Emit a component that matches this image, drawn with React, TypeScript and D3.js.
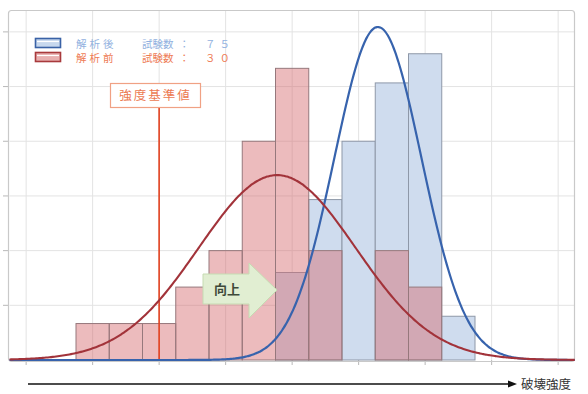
import React from "react";
import * as d3 from "d3";

// bins: each bin is 1 strength unit wide, starting at these left edges
const binLeft = [0, 1, 2, 3, 4, 5, 6, 7, 8, 9, 10, 11];
const beforeCounts = [1, 1, 1, 2, 3, 6, 8, 3, 0, 3, 2, 0]; // 解析前 n=30
const afterCounts = [0, 0, 0, 0, 0, 0, 6, 11, 15, 19, 21, 3]; // 解析後 n=75
const beforeN = 30;
const afterN = 75;
// fitted normal curves
const beforeFit = { mean: 6.05, sd: 2.36 };
const afterFit = { mean: 9.08, sd: 1.31 };
const threshold = 2.5;
const yTicks = [0.05, 0.1, 0.15, 0.2, 0.25, 0.3];
const xGrid = [-1.5, 0.5, 2.5, 4.5, 6.5, 8.5, 10.5, 12.5, 14.5];

const W = 588;
const H = 394;
const FONT = "'Noto Sans CJK JP', 'Noto Sans', sans-serif";

const pdf = (x: number, m: number, s: number) =>
  Math.exp(-((x - m) ** 2) / (2 * s * s)) / (s * Math.sqrt(2 * Math.PI));

export default function App() {
  const x = d3.scaleLinear().domain([-2, 15]).range([9.5, 574.75]);
  const y = d3.scaleLinear().domain([0, 0.32]).range([360, 10]);
  const xs = d3.range(-2, 15.001, 0.05);
  const line = d3
    .line<number[]>()
    .x((d) => x(d[0]))
    .y((d) => y(d[1]))
    .curve(d3.curveBasis);
  const beforePath = line(xs.map((v) => [v, pdf(v, beforeFit.mean, beforeFit.sd)]));
  const afterPath = line(xs.map((v) => [v, pdf(v, afterFit.mean, afterFit.sd)]));

  return (
    <svg
      width={W}
      height={H}
      style={{ position: "absolute", left: 0, top: 0, background: "#fff" }}
      fontFamily={FONT}
    >
      {/* gridlines */}
      {yTicks.map((t) => (
        <g key={"y" + t}>
          <line x1={x(-2)} x2={x(15)} y1={y(t)} y2={y(t)} stroke="#e3e3e3" strokeWidth={1} />
          <line x1={3} x2={9} y1={y(t)} y2={y(t)} stroke="#b8b8b8" strokeWidth={1} />
        </g>
      ))}
      {xGrid.map((t) => (
        <g key={"x" + t}>
          <line x1={x(t)} x2={x(t)} y1={y(0.32)} y2={y(0)} stroke="#e3e3e3" strokeWidth={1} />
          <line x1={x(t)} x2={x(t)} y1={y(0)} y2={y(0) + 5} stroke="#b8b8b8" strokeWidth={1} />
        </g>
      ))}
      {/* frame */}
      <rect x={8.5} y={10.5} width={566} height={351} rx={3} fill="none" stroke="#c9c9c9" strokeWidth={1.2} />

      {/* after bars (blue) */}
      {binLeft.map((b, i) =>
        afterCounts[i] > 0 ? (
          <rect
            key={"a" + i}
            x={x(b)}
            y={y(afterCounts[i] / afterN)}
            width={x(b + 1) - x(b)}
            height={y(0) - y(afterCounts[i] / afterN)}
            fill="#cfdcee"
            stroke="#8e98a8"
            strokeWidth={1}
          />
        ) : null
      )}
      {/* before bars (red, translucent) */}
      {binLeft.map((b, i) =>
        beforeCounts[i] > 0 ? (
          <rect
            key={"b" + i}
            x={x(b)}
            y={y(beforeCounts[i] / beforeN)}
            width={x(b + 1) - x(b)}
            height={y(0) - y(beforeCounts[i] / beforeN)}
            fill="rgba(214,106,112,0.46)"
            stroke="#96787c"
            strokeWidth={1}
          />
        ) : null
      )}

      {/* threshold line */}
      <line x1={x(threshold)} x2={x(threshold)} y1={107} y2={y(0)} stroke="#e2401f" strokeWidth={1.6} />

      {/* curves */}
      <path d={afterPath ?? ""} fill="none" stroke="#3763ad" strokeWidth={2.2} />
      <path d={beforePath ?? ""} fill="none" stroke="#a2333a" strokeWidth={2.1} />

      {/* threshold label */}
      <rect x={110.5} y={83.5} width={90} height={24} fill="#fff" stroke="#f0a184" strokeWidth={1.2} />
      <text x={155.5} y={100} textAnchor="middle" fontSize={12.5} fill="#ec7a52" letterSpacing={2}>
        強度基準値
      </text>

      {/* legend */}
      <rect x={35.5} y={38.5} width={25} height={9} fill="#c7d8ee" stroke="#3a62a6" strokeWidth={1.6} />
      <line x1={37} x2={59} y1={41.5} y2={41.5} stroke="#fff" strokeWidth={1.2} />
      <rect x={35.5} y={52.5} width={25} height={9} fill="#e8b0b0" stroke="#a83a3c" strokeWidth={1.6} />
      <line x1={37} x2={59} y1={55.5} y2={55.5} stroke="#fff" strokeWidth={1.2} />
      <text x={76} y={47.5} fontSize={10.5} fill="#91b1e0" letterSpacing={3}>
        解析後
      </text>
      <text x={142} y={47.5} fontSize={10.5} fill="#91b1e0">
        試験数
      </text>
      <text x={179} y={47.5} fontSize={10.5} fill="#91b1e0">
        ：
      </text>
      <text x={205} y={47.5} fontSize={10.5} fill="#91b1e0" letterSpacing={4}>
        ７５
      </text>
      <text x={76} y={62} fontSize={10.5} fill="#ee7b55" letterSpacing={3}>
        解析前
      </text>
      <text x={142} y={62} fontSize={10.5} fill="#ee7b55">
        試験数
      </text>
      <text x={179} y={62} fontSize={10.5} fill="#ee7b55">
        ：
      </text>
      <text x={205} y={62} fontSize={10.5} fill="#ee7b55" letterSpacing={4}>
        ３０
      </text>

      {/* 向上 arrow */}
      <path
        d="M203,274 L249,274 L249,263 L277,290 L249,318 L249,304 L203,304 Z"
        fill="#e1eed2"
        stroke="#c6dbb2"
        strokeWidth={1}
      />
      <text x={227} y={294} textAnchor="middle" fontSize={13} fontWeight="bold" fill="#3e4a3a">
        向上
      </text>

      {/* bottom axis arrow */}
      <line x1={28} x2={510} y1={384} y2={384} stroke="#111" strokeWidth={1.6} />
      <path d="M517,384 L508,380.5 L508,387.5 Z" fill="#111" />
      <text x={521} y={389} fontSize={12.5} fill="#333">
        破壊強度
      </text>
    </svg>
  );
}
